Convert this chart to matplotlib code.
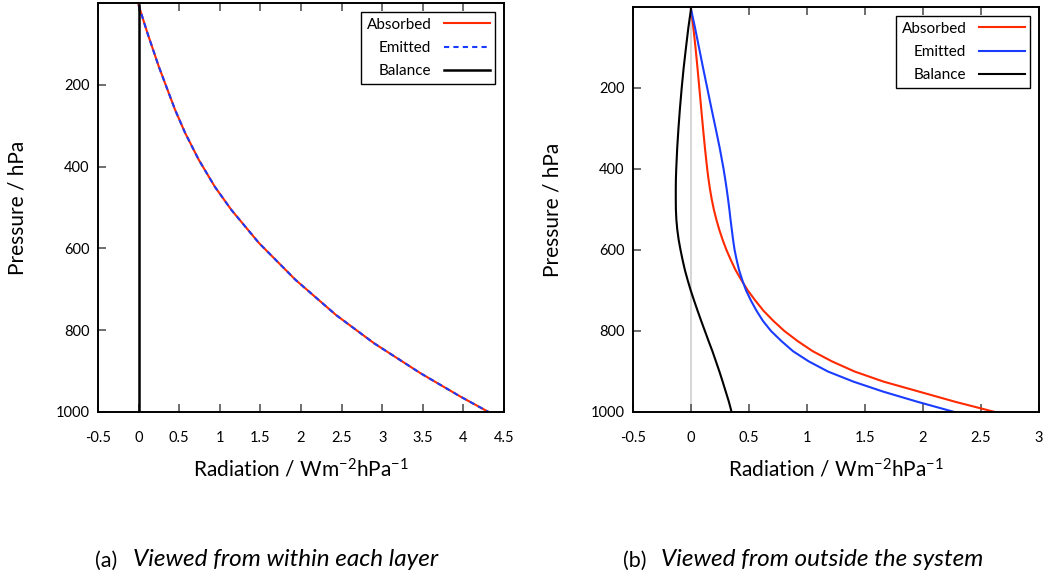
import matplotlib
matplotlib.use('Agg')
import matplotlib.pyplot as plt

plt.rcParams['font.family'] = ['Lato', 'DejaVu Sans']
plt.rcParams['mathtext.default'] = 'regular'

# (a) viewed from within each layer: absorbed == emitted, balance == 0
pressure_a = [5, 74, 155, 261, 318, 383, 449, 506, 587, 677, 763, 832, 905, 962, 1000]
within_absorbed = [0.0, 0.11, 0.248, 0.449, 0.574, 0.74, 0.938, 1.143, 1.483, 1.933, 2.432,
                   2.90, 3.47, 3.96, 4.31]
within_emitted = [0.0, 0.11, 0.248, 0.449, 0.574, 0.74, 0.938, 1.143, 1.483, 1.933, 2.432,
                  2.90, 3.47, 3.96, 4.31]
within_balance = [0.0] * 15

# (b) viewed from outside the system
pressure_b = [5, 50, 100, 150, 200, 250, 300, 350, 400, 425, 450, 475, 500, 525, 550, 575,
              600, 625, 650, 675, 700, 725, 750, 775, 800, 825, 850, 875, 900, 925, 950, 975, 1000]
outside_absorbed = [0.0, 0.02, 0.039, 0.056, 0.072, 0.088, 0.104, 0.121, 0.14, 0.151, 0.164,
                    0.179, 0.197, 0.219, 0.244, 0.273, 0.306, 0.344, 0.385, 0.436, 0.49, 0.555,
                    0.625, 0.71, 0.805, 0.92, 1.05, 1.215, 1.41, 1.66, 1.97, 2.28, 2.62]
outside_emitted = [0.0, 0.034, 0.069, 0.104, 0.14, 0.176, 0.213, 0.249, 0.281, 0.295, 0.308,
                   0.32, 0.331, 0.341, 0.352, 0.363, 0.376, 0.394, 0.415, 0.443, 0.475, 0.517,
                   0.565, 0.62, 0.69, 0.78, 0.88, 1.015, 1.18, 1.40, 1.66, 1.955, 2.27]
outside_balance = [0.0, -0.022, -0.043, -0.063, -0.08, -0.095, -0.108, -0.119, -0.127, -0.13, -0.131,
                   -0.131, -0.13, -0.126, -0.118, -0.106, -0.09, -0.072, -0.052, -0.028, -0.002, 0.027,
                   0.057, 0.088, 0.12, 0.152, 0.185, 0.215, 0.245, 0.273, 0.30, 0.327, 0.35]

xticks_a = [-0.5, 0, 0.5, 1, 1.5, 2, 2.5, 3, 3.5, 4, 4.5]
xticks_b = [-0.5, 0, 0.5, 1, 1.5, 2, 2.5, 3]
yticks = [200, 400, 600, 800, 1000]


def style_axes(ax, xlim, xticks):
    ax.set_xlim(*xlim)
    ax.set_ylim(1000, 0)
    ax.set_xticks(xticks)
    ax.set_xticklabels(['{:g}'.format(v) for v in xticks])
    ax.set_yticks(yticks)
    ax.tick_params(axis='both', direction='in', length=6, width=1.2,
                   color='#555555', labelsize=10.5)
    ax.tick_params(axis='x', top=True, pad=14)
    ax.tick_params(axis='y', pad=6)
    for s in ax.spines.values():
        s.set_linewidth(1.4)
    ax.set_xlabel('Radiation / Wm$^{-2}$hPa$^{-1}$', fontsize=15, labelpad=9)
    ax.set_ylabel('Pressure / hPa', fontsize=15, labelpad=20)
    leg = ax.legend(loc='upper right', markerfirst=False, fontsize=11,
                    fancybox=False, framealpha=1, edgecolor='black',
                    handlelength=3.0, borderaxespad=0.6, labelspacing=0.62,
                    borderpad=0.35)
    leg.get_frame().set_linewidth(1.0)


fig = plt.figure(figsize=(10.49, 5.78), dpi=100)
ax1 = fig.add_axes([0.0934, 0.2872, 0.3871, 0.7076])
ax2 = fig.add_axes([0.6034, 0.2872, 0.3871, 0.7007])

ax1.plot(within_absorbed, pressure_a, color='#ff2a00', lw=1.5, label='Absorbed')
ax1.plot(within_emitted, pressure_a, color='#1a3cff', lw=1.5, ls=(0, (2.5, 2)), label='Emitted')
ax1.plot(within_balance, pressure_a, color='black', lw=1.8, label='Balance')
style_axes(ax1, (-0.5, 4.5), xticks_a)

ax2.axvline(0, color='#d3d3d3', lw=1.3, zorder=1)
ax2.plot(outside_absorbed, pressure_b, color='#ff2a00', lw=1.5, label='Absorbed')
ax2.plot(outside_emitted, pressure_b, color='#1a3cff', lw=1.5, label='Emitted')
ax2.plot(outside_balance, pressure_b, color='black', lw=1.5, label='Balance')
style_axes(ax2, (-0.5, 3), xticks_b)

fig.text(0.0905, 0.02, '(a)', fontsize=15.5)
fig.text(0.127, 0.02, 'Viewed from within each layer', fontsize=17.5, style='italic')
fig.text(0.594, 0.02, '(b)', fontsize=15.5)
fig.text(0.630, 0.02, 'Viewed from outside the system', fontsize=17.5, style='italic')

fig.savefig('out.png', dpi=100)
